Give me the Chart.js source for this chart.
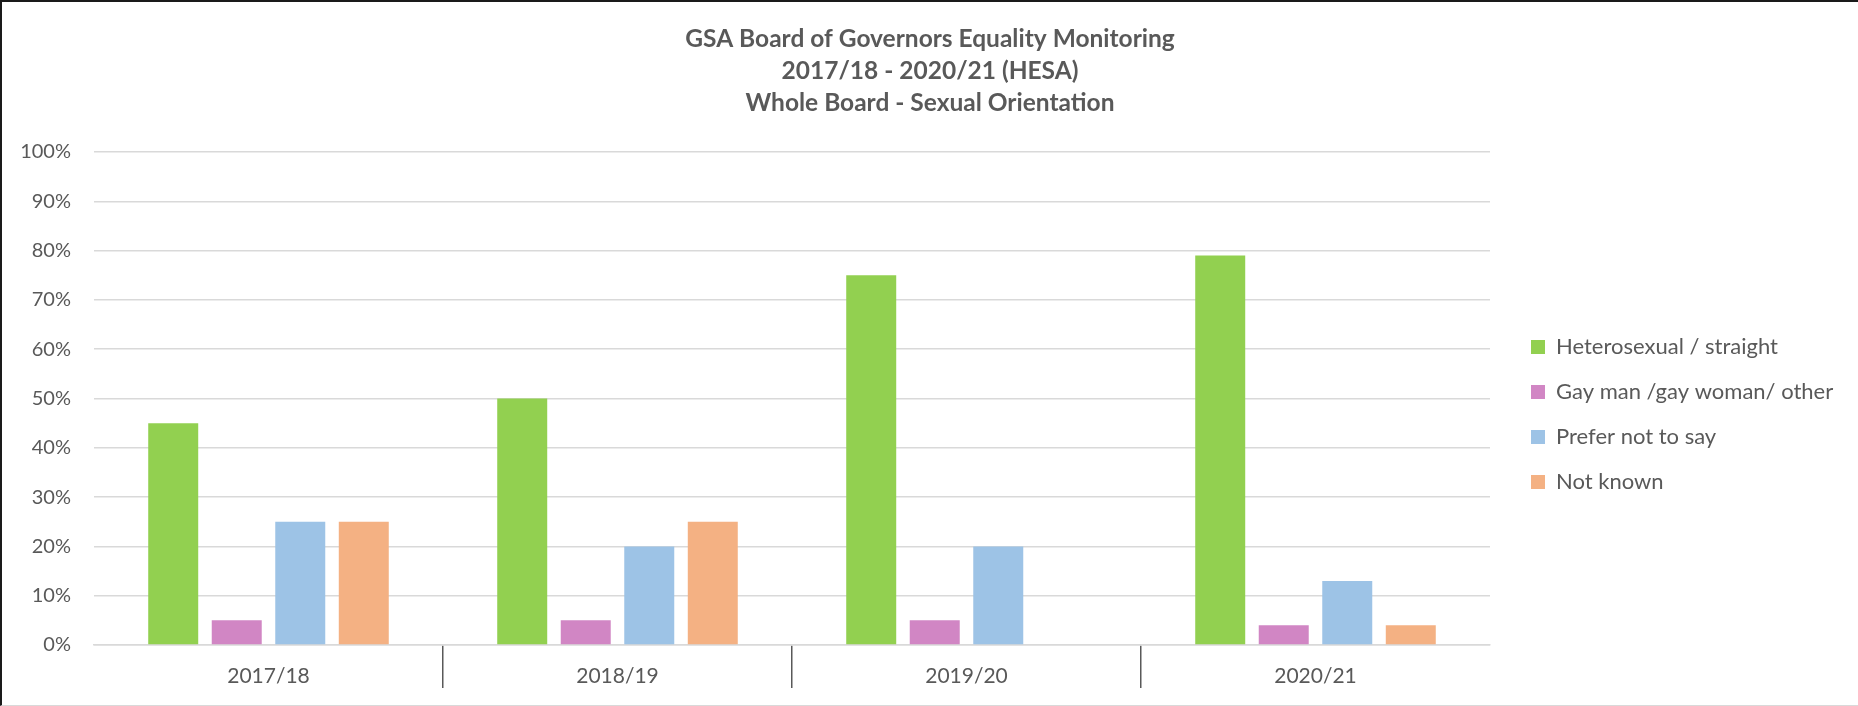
<!DOCTYPE html>
<html>
<head>
<meta charset="utf-8">
<title>GSA Board of Governors Equality Monitoring</title>
<script src="https://cdn.jsdelivr.net/npm/chart.js@4.4.1/dist/chart.umd.min.js"></script>
<style>
  html, body { margin: 0; padding: 0; background: #fff; }
  #frame {
    width: 1858px;
    height: 706px;
    box-sizing: border-box;
    border-top: 2px solid #1a1a1a;
    border-left: 2px solid #1a1a1a;
    border-bottom: 1px solid #d9d9d9;
    position: relative;
  }
</style>
</head>
<body>
<div id="frame"><canvas id="orientChart"></canvas></div>
<script>
// --- data ---
const years = ['2017/18', '2018/19', '2019/20', '2020/21'];
const heterosexual = [45, 50, 75, 79];
const gayOther = [5, 5, 5, 4];
const preferNot = [25, 20, 20, 13];
const notKnown = [25, 25, null, 4];   // no bar in 2019/20

const seriesNames = ['Heterosexual / straight', 'Gay man /gay woman/ other', 'Prefer not to say', 'Not known'];
const titleLines = ['GSA Board of Governors Equality Monitoring', '2017/18 - 2020/21 (HESA)', 'Whole Board - Sexual Orientation'];

const textGrey = '#595959';
const gridGrey = '#d9d9d9';

Chart.defaults.font.family = 'Lato';
Chart.defaults.color = textGrey;

// legend sits a bit away from the plot, like the Excel original
const LEGEND_W = 368;
const LEGEND_SHIFT_X = 18;
const LEGEND_SHIFT_Y = 16;
const legendGap = {
    id: 'legendGap',
    beforeInit(chart) {
        const lg = chart.legend;
        const fit = lg.fit;
        lg.fit = function () {
            fit.call(this);
            this.width = LEGEND_W;
        };
    },
    afterLayout(chart) {
        const lg = chart.legend;
        lg.left += LEGEND_SHIFT_X;
        lg.right += LEGEND_SHIFT_X;
        lg.top += LEGEND_SHIFT_Y;
        lg.bottom += LEGEND_SHIFT_Y;
    }
};

const ctx = document.getElementById('orientChart').getContext('2d');
new Chart(ctx, {
    type: 'bar',
    data: {
        labels: years,
        datasets: [
            { label: seriesNames[0], data: heterosexual, backgroundColor: '#92d050' },
            { label: seriesNames[1], data: gayOther, backgroundColor: '#d186c4' },
            { label: seriesNames[2], data: preferNot, backgroundColor: '#9dc3e6' },
            { label: seriesNames[3], data: notKnown, backgroundColor: '#f4b183' }
        ]
    },
    options: {
        responsive: true,
        maintainAspectRatio: false,
        animation: false,
        categoryPercentage: 0.728,
        barPercentage: 0.787,
        layout: { padding: { left: 0, right: 0, top: 0, bottom: 17 } },
        plugins: {
            tooltip: { enabled: false },
            title: {
                display: true,
                text: titleLines,
                color: textGrey,
                font: { size: 24.5, weight: 'bold', lineHeight: 32 / 24.5 },
                padding: { top: 21, bottom: 33 }
            },
            legend: {
                position: 'right',
                fullSize: false,
                align: 'center',
                labels: {
                    boxWidth: 14,
                    boxHeight: 14,
                    padding: 23,
                    color: textGrey,
                    font: { size: 22 }
                }
            }
        },
        scales: {
            x: {
                grid: {
                    offset: true,
                    drawOnChartArea: false,
                    drawTicks: true,
                    tickLength: 43,
                    lineWidth: 1.5,
                    // only the separators between the years
                    color: (c) => (c.index > 0 ? textGrey : 'transparent')
                },
                border: { color: gridGrey, width: 1.5 },
                ticks: { padding: -24, color: textGrey, font: { size: 21 } },
                afterFit(scale) { scale.height = 43; }
            },
            y: {
                min: 0,
                max: 100,
                grid: { color: gridGrey, lineWidth: 1.5, drawTicks: false },
                border: { display: false },
                ticks: {
                    stepSize: 10,
                    padding: 23,
                    color: textGrey,
                    font: { size: 20 },
                    callback: (v) => v + '%'
                },
                afterFit(scale) { scale.width = 92; }
            }
        }
    },
    plugins: [legendGap]
});
</script>
</body>
</html>
